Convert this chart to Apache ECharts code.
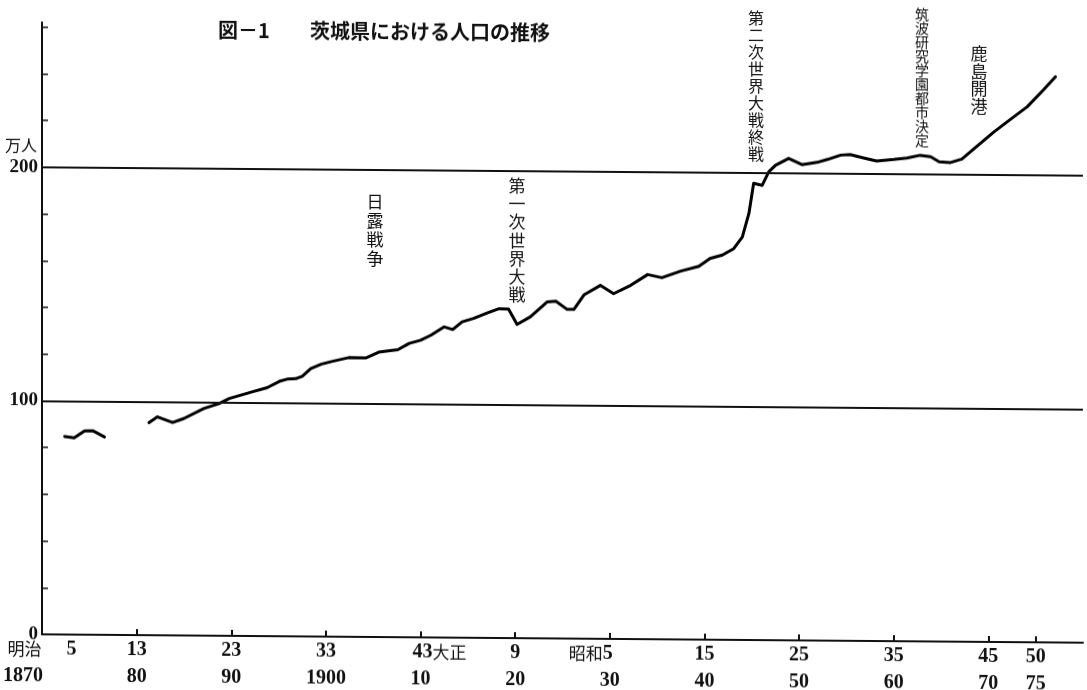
<!DOCTYPE html>
<html><head><meta charset="utf-8">
<script src="https://cdn.jsdelivr.net/npm/echarts@6/dist/echarts.min.js"></script>
<style>
html,body{margin:0;padding:0;background:#fff;overflow:hidden;}
#c{width:1087px;height:690px;transform:skewY(0.46deg);transform-origin:0 0;}
</style></head><body><div id="c"></div>
<script>
// ---- data (万人) ----
const years1 = [1872.4, 1873.4, 1874.5, 1875.4, 1876.6];
const pop1   = [84.8, 84.2, 87.2, 87.3, 84.7];
const years2 = [1881.3,1882.2,1883.8,1885.0,1887.1,1888.7,1889.8,1892.1,1893.8,1895.2,1895.9,1896.8,1897.5,1898.4,1899.5,1900.7,1902.4,1904.2,1905.6,1907.6,1908.8,1910.0,1911.1,1912.5,1913.4,1914.4,1915.6,1917.1,1918.3,1919.3,1920.2,1921.6,1923.4,1924.3,1925.5,1926.2,1927.3,1929.0,1930.4,1932.2,1934.0,1935.5,1937.5,1939.4,1940.6,1941.9,1943.1,1944.0,1944.7,1945.2,1946.1,1946.8,1947.5,1948.9,1950.3,1951.9,1953.0,1954.4,1955.4,1956.8,1958.2,1960.0,1961.4,1962.8,1963.9,1964.8,1966.0,1967.2,1968.4,1970.6,1972.7,1974.1,1975.8,1977.1];
const pop2   = [91.0,93.5,91.1,92.9,97.2,99.4,101.6,104.4,106.4,109.3,110.1,110.3,111.4,114.7,116.6,117.9,119.5,119.4,122.0,123.1,125.8,127.2,129.4,133.0,131.9,135.2,136.7,139.2,141.0,140.8,134.3,137.6,144.1,144.4,140.9,140.9,147.3,151.3,147.8,151.4,156.1,154.8,157.7,159.8,163.2,164.7,167.5,172.5,182.6,195.5,194.7,200.5,203.3,206.3,203.7,204.7,206.0,207.9,208.2,206.8,205.5,206.2,206.9,208.1,207.5,205.4,205.1,206.6,210.8,218.4,224.9,229.2,236.4,242.2];

const tickYears  = [1880,1890,1900,1910,1920,1930,1940,1950,1960,1970,1975];
const labelYears = [1870,1880,1890,1900,1910,1920,1930,1940,1950,1960,1970,1975];
const eraLabels  = ['明治 5','13','23','33','43大正','9','昭和5','15','25','35','45','50'];
const westLabels = ['1870','80','90','1900','10','20','30','40','50','60','70','75'];
const yTickValues  = [20,40,60,80,100,120,140,160,180,200,220,240,260];
const yLabelValues = [0,100,200];
const refLines = [100,200];
const titleText = '図－1\u3000\u3000茨城県における人口の推移';
const unitText = '万人';
const eventTexts = ['日露戦争','第一次世界大戦','第二次世界大戦終戦','筑波研究学園都市決定','鹿島開港'];

const INK = '#111';
const NUM = '"Liberation Serif", "DejaVu Serif", serif';
const JP = '"Noto Sans CJK JP", sans-serif';

function eraFmt(v){
  const i = labelYears.indexOf(v); if (i < 0) return '';
  const s = eraLabels[i];
  if (s === '明治 5') return '{j|明治}\u3000 5';
  if (s === '43大正') return '{h|大正}43{j|大正}';
  if (s === '昭和5') return '{j|昭和}5{h|昭和}';
  return s;
}
function westFmt(v){
  const i = labelYears.indexOf(v); if (i < 0) return '';
  const s = westLabels[i];
  if (s === '1870') return '1870{h|1870}';
  return s;
}
const rich = {
  j: {fontFamily: JP, fontWeight: 'normal', fontSize: 17, color: INK},
  h: {fontFamily: NUM, fontWeight: 'bold', fontSize: 19, color: 'rgba(0,0,0,0)'},
};
function vert(s){ return s.split('').join('\n'); }

const chart = echarts.init(document.getElementById('c'), null, {renderer: 'canvas'});
chart.setOption({
  animation: false,
  backgroundColor: '#fff',
  grid: {left: 41, right: 4, top: 22, bottom: 56, containLabel: false},
  xAxis: [{
    type: 'value', min: 1870, max: 1980, position: 'bottom',
    axisLine: {show: true, onZero: false, lineStyle: {color: INK, width: 2}},
    axisTick: {show: true, inside: true, length: 6, customValues: tickYears, lineStyle: {color: INK, width: 2}},
    axisLabel: {show: true, customValues: labelYears, formatter: eraFmt, rich: rich, margin: 5,
      fontFamily: NUM, fontWeight: 'bold', fontSize: 20, color: INK},
    splitLine: {show: false}
  },{
    type: 'value', min: 1870, max: 1980, position: 'bottom', offset: 26,
    axisLine: {show: false}, axisTick: {show: false},
    axisLabel: {show: true, customValues: labelYears, formatter: westFmt, rich: rich, margin: 6,
      fontFamily: NUM, fontWeight: 'bold', fontSize: 20, color: INK},
    splitLine: {show: false}
  }],
  yAxis: {
    type: 'value', min: 0, max: 262,
    axisLine: {show: true, onZero: false, lineStyle: {color: INK, width: 2}},
    axisTick: {show: true, inside: true, length: 6, customValues: yTickValues, lineStyle: {color: INK, width: 1.5}},
    axisLabel: {show: true, customValues: yLabelValues, margin: 4,
      fontFamily: NUM, fontWeight: 'bold', fontSize: 19, color: INK},
    splitLine: {show: false}
  },
  series: [{
    type: 'line', xAxisIndex: 0, showSymbol: false, symbol: 'none',
    data: years1.map((y, i) => [y, pop1[i]]),
    lineStyle: {color: '#000', width: 3, join: 'round', cap: 'round'},
    markLine: {
      silent: true, symbol: ['none','none'], label: {show: false},
      lineStyle: {color: INK, width: 1.8, type: 'solid'},
      data: refLines.map(v => ({yAxis: v}))
    }
  },{
    type: 'line', xAxisIndex: 0, showSymbol: false, symbol: 'none',
    data: years2.map((y, i) => [y, pop2[i]]),
    lineStyle: {color: '#000', width: 3, join: 'round', cap: 'round'}
  }],
  graphic: [
    {type: 'text', x: 384, y: 18, style: {text: titleText, font: 'bold 20px "Noto Sans CJK JP"', fill: INK, align: 'center', verticalAlign: 'top'}},
    {type: 'text', x: 21, y: 145, style: {text: unitText, font: '16px "Noto Sans CJK JP"', fill: INK, align: 'center', verticalAlign: 'middle'}},
    {type: 'text', x: 375, y: 189, style: {text: vert(eventTexts[0]), font: '17px "Noto Sans CJK JP"', lineHeight: 19, fill: INK, align: 'center', verticalAlign: 'top'}},
    {type: 'text', x: 517, y: 172, style: {text: vert(eventTexts[1]), font: '17px "Noto Sans CJK JP"', lineHeight: 18.3, fill: INK, align: 'center', verticalAlign: 'top'}},
    {type: 'text', x: 756, y: 3, style: {text: vert(eventTexts[2]), font: '16px "Noto Sans CJK JP"', lineHeight: 17, fill: INK, align: 'center', verticalAlign: 'top'}},
    {type: 'text', x: 922, y: 0, style: {text: vert(eventTexts[3]), font: '14px "Noto Sans CJK JP"', lineHeight: 14, fill: INK, align: 'center', verticalAlign: 'top'}},
    {type: 'text', x: 979, y: 37, style: {text: vert(eventTexts[4]), font: '17px "Noto Sans CJK JP"', lineHeight: 17.5, fill: INK, align: 'center', verticalAlign: 'top'}}
  ]
});
</script></body></html>
